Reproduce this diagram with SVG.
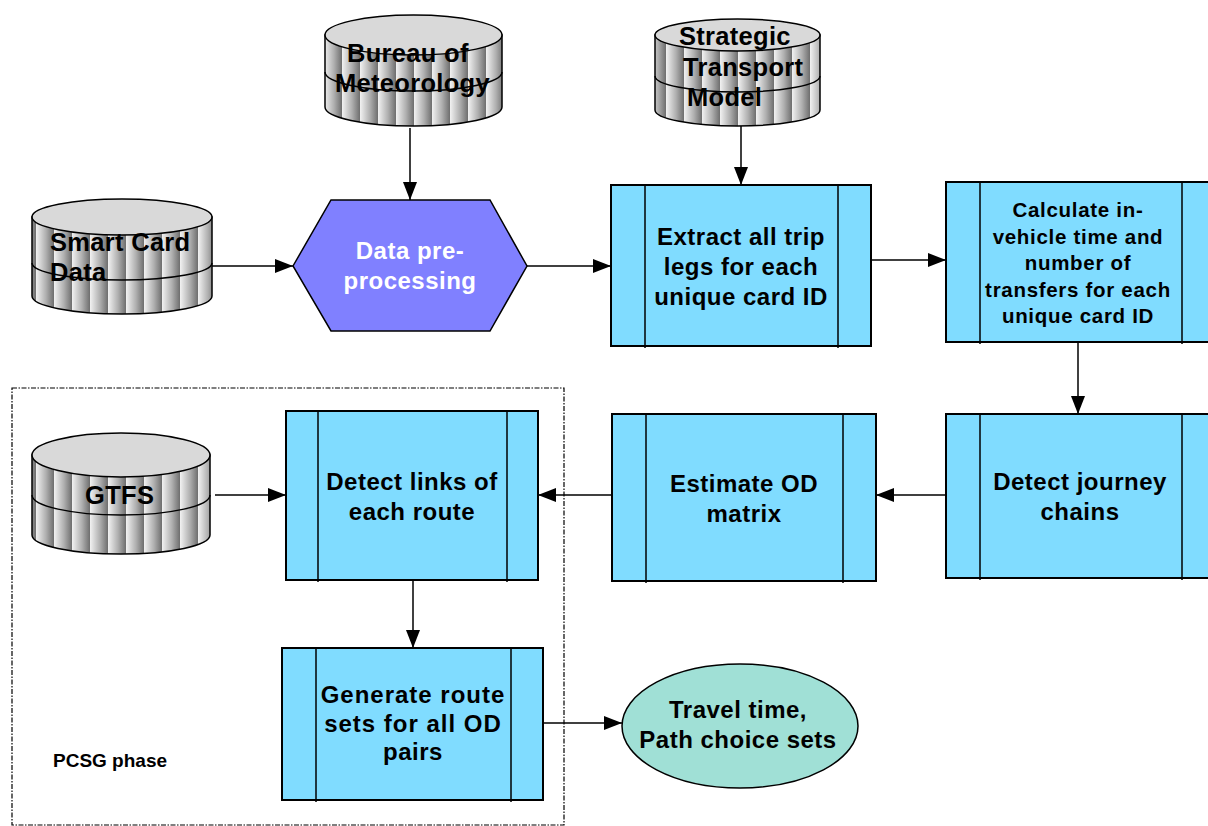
<svg xmlns="http://www.w3.org/2000/svg" width="1208" height="826" viewBox="0 0 1208 826">
  <defs>
    <linearGradient id="flute" x1="0" y1="0" x2="1" y2="0">
      <stop offset="0" stop-color="#f2f2f2"/>
      <stop offset="0.55" stop-color="#b0b0b0"/>
      <stop offset="1" stop-color="#6e6e6e"/>
    </linearGradient>
    <pattern id="stripes" patternUnits="userSpaceOnUse" width="18" height="10">
      <rect width="18" height="10" fill="url(#flute)"/>
    </pattern>
    <marker id="arrow" viewBox="0 0 18 14" refX="18" refY="7" markerWidth="18" markerHeight="14" markerUnits="userSpaceOnUse" orient="auto">
      <path d="M0,0 L18,7 L0,14 Z" fill="#000"/>
    </marker>
  </defs>
  <style>
    .cyl-body { fill: url(#stripes); stroke: #000; stroke-width: 1.5; }
    .cyl-top { fill: #d9d9d9; stroke: #000; stroke-width: 1.5; }
    .seam { fill: none; stroke: #000; stroke-width: 1.5; }
    .proc { fill: #80dcff; stroke: #000; stroke-width: 2; }
    .bar { stroke: #000; stroke-width: 1.5; }
    .lbl { font-family: "Liberation Sans", Arial, sans-serif; font-weight: bold; fill: #000; }
    .cyl-txt { font-size: 25.5px; letter-spacing: 0.3px; }
    .box-txt { font-size: 24px; text-anchor: middle; letter-spacing: 0.5px; }
    .small-txt { font-size: 20.5px; text-anchor: middle; letter-spacing: 0.7px; }
    .conn { stroke: #000; stroke-width: 1.5; fill: none; marker-end: url(#arrow); }
  </style>

  <rect width="1208" height="826" fill="#fff"/>

  <!-- PCSG phase boundary -->
  <g id="pcsg-phase">
    <rect x="12" y="388" width="552" height="437" fill="none" stroke="#000" stroke-width="1.2" stroke-dasharray="5 1.5 1.5 1.5"/>
    <text class="lbl" x="53" y="767" font-size="19">PCSG phase</text>
  </g>

  <!-- Connectors -->
  <g id="connectors">
    <line class="conn" x1="212" y1="266" x2="293" y2="266"/>
    <line class="conn" x1="410" y1="128" x2="410" y2="200"/>
    <line class="conn" x1="527" y1="266" x2="611" y2="266"/>
    <line class="conn" x1="741" y1="125" x2="741" y2="185"/>
    <line class="conn" x1="871" y1="260" x2="946" y2="260"/>
    <line class="conn" x1="1078" y1="342" x2="1078" y2="414"/>
    <line class="conn" x1="946" y1="495" x2="876" y2="495"/>
    <line class="conn" x1="612" y1="495" x2="538" y2="495"/>
    <line class="conn" x1="215" y1="495" x2="286" y2="495"/>
    <line class="conn" x1="413" y1="580" x2="413" y2="648"/>
    <line class="conn" x1="539" y1="723" x2="622" y2="723"/>
  </g>

  <!-- Smart Card Data store -->
  <g id="smart-card-data">
    <path class="cyl-body" d="M32,217 L32,296 A90,18 0 0 0 212,296 L212,217 Z"/>
    <path class="seam" d="M32,263 A90,17 0 0 0 212,263"/>
    <ellipse class="cyl-top" cx="122" cy="217" rx="90" ry="18"/>
    <text class="lbl cyl-txt" x="50" y="251">Smart Card</text>
    <text class="lbl cyl-txt" x="50" y="281">Data</text>
  </g>

  <!-- Bureau of Meteorology store -->
  <g id="bureau-of-meteorology">
    <path class="cyl-body" d="M325,35 L325,107 A88.5,19 0 0 0 502,107 L502,35 Z"/>
    <path class="seam" d="M325,72 A88.5,19 0 0 0 502,72"/>
    <ellipse class="cyl-top" cx="413.5" cy="35" rx="88.5" ry="20"/>
    <text class="lbl cyl-txt" x="347" y="62">Bureau of</text>
    <text class="lbl cyl-txt" x="335" y="92">Meteorology</text>
  </g>

  <!-- Strategic Transport Model store -->
  <g id="strategic-transport-model">
    <path class="cyl-body" d="M655,35 L655,110 A82.5,16 0 0 0 820,110 L820,35 Z"/>
    <path class="seam" d="M655,76 A82.5,16 0 0 0 820,76"/>
    <ellipse class="cyl-top" cx="737.5" cy="35" rx="82.5" ry="16"/>
    <text class="lbl cyl-txt" x="679" y="45">Strategic</text>
    <text class="lbl cyl-txt" x="683" y="76">Transport</text>
    <text class="lbl cyl-txt" x="687" y="106">Model</text>
  </g>

  <!-- GTFS store -->
  <g id="gtfs">
    <path class="cyl-body" d="M32,455 L32,535 A89,19 0 0 0 210,535 L210,455 Z"/>
    <path class="seam" d="M32,495 A89,20 0 0 0 210,495"/>
    <ellipse class="cyl-top" cx="121" cy="455" rx="89" ry="22"/>
    <text class="lbl cyl-txt" x="85" y="504">GTFS</text>
  </g>

  <!-- Data pre-processing -->
  <g id="data-preprocessing">
    <polygon points="293,266 331,200 490,200 527,266 490,331 331,331" fill="#8080ff" stroke="#000" stroke-width="1.5"/>
    <text class="lbl box-txt" x="410" y="259" style="fill:#fff">Data pre-</text>
    <text class="lbl box-txt" x="410" y="289" style="fill:#fff">processing</text>
  </g>

  <!-- Extract trip legs -->
  <g id="extract-trip-legs">
    <rect class="proc" x="611" y="185" width="260" height="161"/>
    <line class="bar" x1="645" y1="185" x2="645" y2="348"/>
    <line class="bar" x1="838" y1="185" x2="838" y2="348"/>
    <text class="lbl box-txt" x="741" y="245">Extract all trip</text>
    <text class="lbl box-txt" x="741" y="275">legs for each</text>
    <text class="lbl box-txt" x="741" y="305">unique card ID</text>
  </g>

  <!-- Calculate in-vehicle time -->
  <g id="calculate-ivt">
    <rect class="proc" x="946" y="182" width="270" height="160"/>
    <line class="bar" x1="980" y1="182" x2="980" y2="344"/>
    <line class="bar" x1="1182" y1="182" x2="1182" y2="344"/>
    <text class="lbl small-txt" x="1078" y="217">Calculate in-</text>
    <text class="lbl small-txt" x="1078" y="244">vehicle time and</text>
    <text class="lbl small-txt" x="1078" y="270">number of</text>
    <text class="lbl small-txt" x="1078" y="297">transfers for each</text>
    <text class="lbl small-txt" x="1078" y="323">unique card ID</text>
  </g>

  <!-- Detect journey chains -->
  <g id="detect-journey-chains">
    <rect class="proc" x="946" y="414" width="270" height="164"/>
    <line class="bar" x1="980" y1="414" x2="980" y2="580"/>
    <line class="bar" x1="1182" y1="414" x2="1182" y2="580"/>
    <text class="lbl box-txt" x="1080" y="490">Detect journey</text>
    <text class="lbl box-txt" x="1080" y="520">chains</text>
  </g>

  <!-- Estimate OD matrix -->
  <g id="estimate-od">
    <rect class="proc" x="612" y="414" width="264" height="167"/>
    <line class="bar" x1="646" y1="414" x2="646" y2="583"/>
    <line class="bar" x1="843" y1="414" x2="843" y2="583"/>
    <text class="lbl box-txt" x="744" y="492">Estimate OD</text>
    <text class="lbl box-txt" x="744" y="522">matrix</text>
  </g>

  <!-- Detect route links -->
  <g id="detect-links">
    <rect class="proc" x="286" y="411" width="252" height="169"/>
    <line class="bar" x1="318" y1="411" x2="318" y2="582"/>
    <line class="bar" x1="507" y1="411" x2="507" y2="582"/>
    <text class="lbl box-txt" x="412" y="490">Detect links of</text>
    <text class="lbl box-txt" x="412" y="520">each route</text>
  </g>

  <!-- Generate route sets -->
  <g id="generate-route-sets">
    <rect class="proc" x="282" y="648" width="261" height="152"/>
    <line class="bar" x1="316" y1="648" x2="316" y2="802"/>
    <line class="bar" x1="511" y1="648" x2="511" y2="802"/>
    <text class="lbl box-txt" x="413" y="703" style="letter-spacing:1px">Generate route</text>
    <text class="lbl box-txt" x="413" y="732" style="letter-spacing:1px">sets for all OD</text>
    <text class="lbl box-txt" x="413" y="760">pairs</text>
  </g>

  <!-- Output: travel time and path choice sets -->
  <g id="output">
    <ellipse cx="740" cy="726" rx="118" ry="62" fill="#a0e0d6" stroke="#000" stroke-width="1.5"/>
    <text class="lbl box-txt" x="738" y="718">Travel time,</text>
    <text class="lbl box-txt" x="738" y="748">Path choice sets</text>
  </g>
</svg>
